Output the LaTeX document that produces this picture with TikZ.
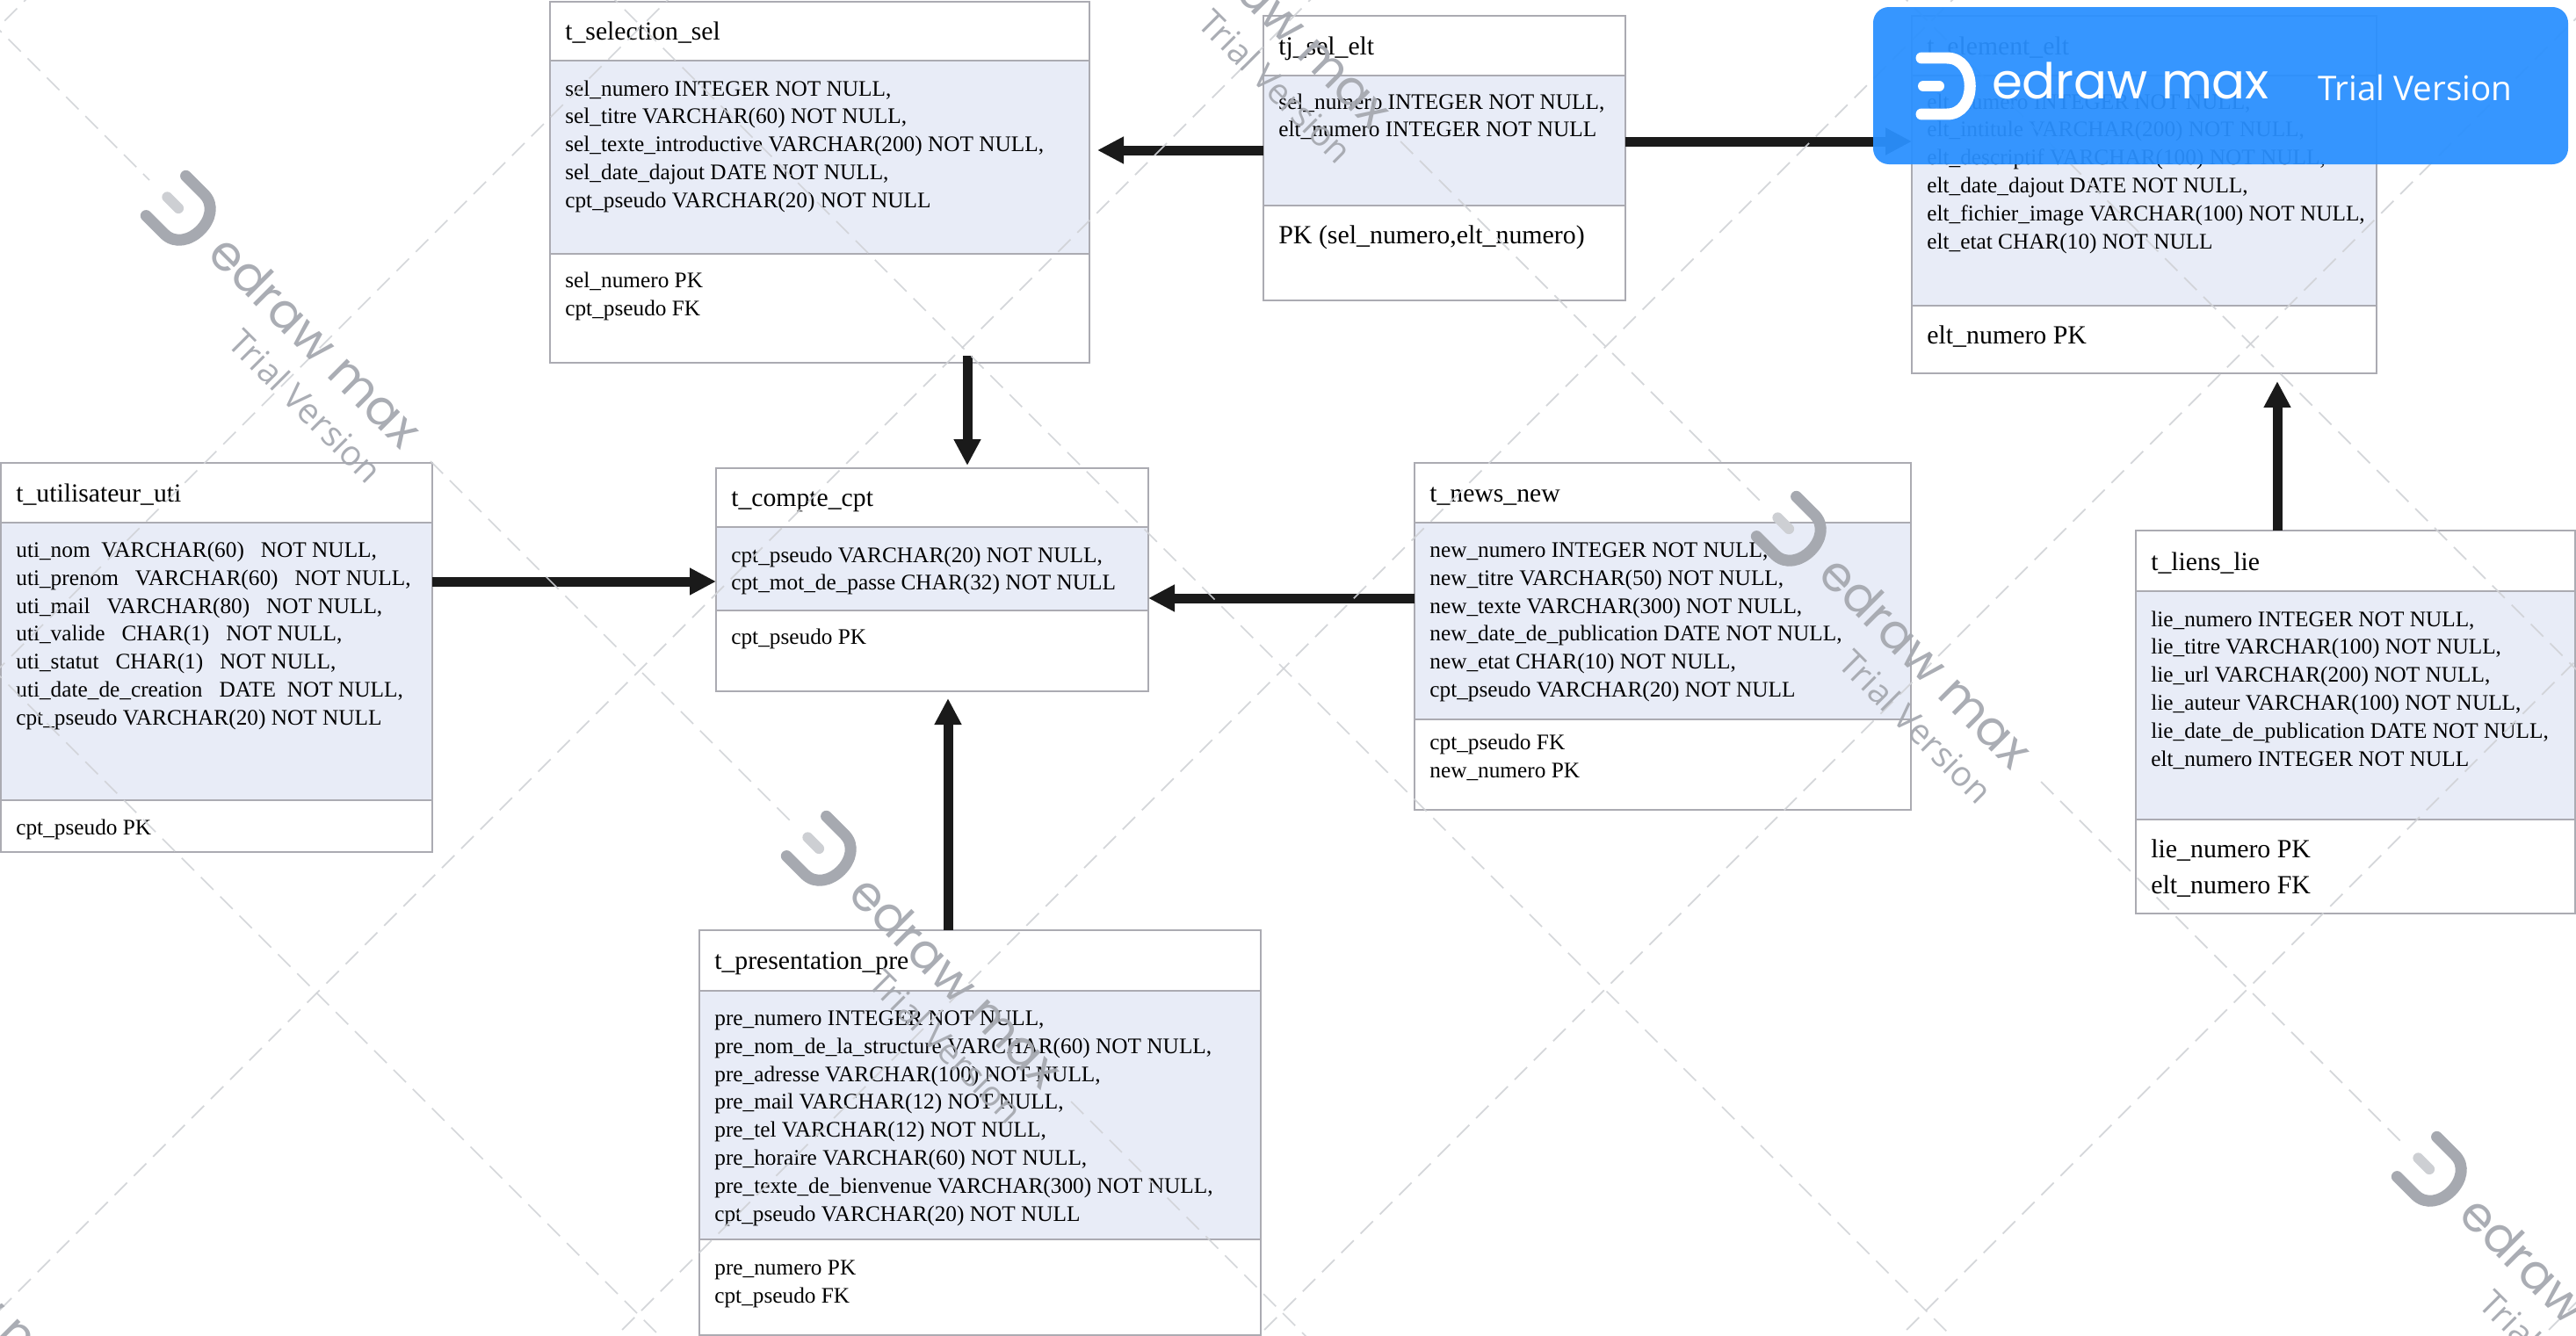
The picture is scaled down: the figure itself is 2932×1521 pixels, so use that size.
\documentclass[tikz,border=0pt]{standalone}
\usepackage{fontspec}
\setmainfont{Liberation Serif}
\newfontfamily\wmfont{Poppins}
\newfontfamily\trialfont{Open Sans}
\usetikzlibrary{arrows.meta,calc}
\definecolor{boxline}{HTML}{ABABB2}
\definecolor{bodyfill}{HTML}{E8ECF7}
\definecolor{conncol}{HTML}{1A1A1A}
\definecolor{wmgrey}{HTML}{A6A9B0}
\definecolor{wmlight}{HTML}{CDCFD3}
\definecolor{wmdash}{HTML}{D0D2D6}
\definecolor{bannerblue}{HTML}{2A90FF}
\tikzset{
  x=0.02cm,y=-0.02cm,
  compbox/.style={draw=boxline,line width=0.05cm,anchor=north west,inner sep=0pt,outer sep=0pt},
  plainbox/.style={compbox,fill=white},
  bodybox/.style={compbox,fill=bodyfill},
  txt/.style={anchor=base west,inner sep=0pt,font=\fontsize{14.4}{18.1}\selectfont,text=black},
  titletxt/.style={txt,font=\fontsize{16.9}{18.1}\selectfont},
  bigtxt/.style={txt,font=\fontsize{17}{23.4}\selectfont},
  conn/.style={draw=conncol,line width=0.22cm,-{Triangle[length=0.6cm,width=0.58cm]}},
  wmline/.style={draw=wmdash,line width=0.035cm,dash pattern=on 0.4cm off 0.22cm,opacity=.9},
  wmbig/.style={inner sep=0pt,rotate=-45,text=wmgrey,font=\wmfont\fontsize{31.8}{33}\selectfont,opacity=.95},
  wmsmall/.style={inner sep=0pt,rotate=-45,text=wmgrey,font=\trialfont\fontsize{22.5}{23}\selectfont,opacity=.95},
}
% name, x1, x2, y1, y2, style
\newcommand{\compart}[6]{%
  \pgfmathsetmacro{\cw}{(#3-#2)*0.02}%
  \pgfmathsetmacro{\ch}{(#5-#4)*0.02}%
  \gdef\lastleft{#2}%
  \node[#6,minimum width=\cw cm,minimum height=\ch cm] (#1) at (#2,#4) {};}
% name, first-line centre y (display px), style, text
\newcommand{\ctext}[4]{%
  \pgfmathsetmacro{\tx}{\lastleft+17}%
  \pgfmathsetmacro{\ty}{#2*1.87+10}%
  \node[#3] (#1) at (\tx,\ty) {\begin{tabular}[t]{@{}l@{}}#4\end{tabular}};}
\newcommand{\wmlogo}[4]{% x y rotation colour
  \begin{scope}[shift={(#1,#2)},rotate=#3]
    \draw[#4,line width=0.26cm,line cap=round] (-34,-32) -- (-5,-32) .. controls (30,-32) and (30,32) .. (-5,32) -- (-34,32);
  \end{scope}}
\newcommand{\wmark}[3]{%
  \wmlogo{#2+13}{#3+12}{-45}{wmgrey}
  \begin{scope}[shift={(#2+13,#3+12)},rotate=-45]
    \draw[wmlight,line width=0.24cm,line cap=round] (-32,0) -- (-14,0);
  \end{scope}
  \node[wmbig] (wme#1) at ($(#2,#3)+(160,153)$) {edraw max};
  \node[wmsmall] (wmt#1) at ($(#2,#3)+(148,227)$) {Trial Version};}
\begin{document}
\begin{tikzpicture}
\useasboundingbox (0,0) rectangle (2932,1521);
\clip (0,0) rectangle (2932,1521);
\fill[white] (0,0) rectangle (2932,1521);

% t_selection_sel
\compart{selh}{626}{1240}{2}{69}{plainbox}
\compart{selb}{626}{1240}{69}{289}{bodybox}
\compart{self}{626}{1240}{289}{413}{plainbox}
\ctext{selht}{19}{titletxt}{t\_selection\_sel}
\ctext{selbt}{53}{txt}{sel\_numero INTEGER NOT NULL,\\sel\_titre VARCHAR(60) NOT NULL,\\sel\_texte\_introductive VARCHAR(200) NOT NULL,\\sel\_date\_dajout DATE NOT NULL,\\cpt\_pseudo VARCHAR(20) NOT NULL}
\ctext{selft}{170}{txt}{sel\_numero PK\\cpt\_pseudo FK}

% tj_sel_elt
\compart{tjh}{1438}{1850}{18}{86}{plainbox}
\compart{tjb}{1438}{1850}{86}{234}{bodybox}
\compart{tjf}{1438}{1850}{234}{342}{plainbox}
\ctext{tjht}{28}{titletxt}{tj\_sel\_elt}
\ctext{tjbt}{61}{txt}{sel\_numero INTEGER NOT NULL,\\elt\_numero INTEGER NOT NULL}
\ctext{tjft}{143}{bigtxt}{PK (sel\_numero,elt\_numero)}

% t_element_elt
\compart{elth}{2176}{2705}{18}{86}{plainbox}
\compart{eltb}{2176}{2705}{86}{348}{bodybox}
\compart{eltf}{2176}{2705}{348}{425}{plainbox}
\ctext{eltht}{28}{titletxt}{t\_element\_elt}
\ctext{eltbt}{61}{txt}{elt\_numero INTEGER NOT NULL,\\elt\_intitule VARCHAR(200) NOT NULL,\\elt\_descriptif VARCHAR(100) NOT NULL,\\elt\_date\_dajout DATE NOT NULL,\\elt\_fichier\_image VARCHAR(100) NOT NULL,\\elt\_etat CHAR(10) NOT NULL}
\ctext{eltft}{204}{bigtxt}{elt\_numero PK}

% t_utilisateur_uti
\compart{utih}{1}{492}{527}{595}{plainbox}
\compart{utib}{1}{492}{595}{911}{bodybox}
\compart{utif}{1}{492}{911}{970}{plainbox}
\ctext{utiht}{300}{titletxt}{t\_utilisateur\_uti}
\ctext{utibt}{334}{txt}{uti\_nom\ \ VARCHAR(60)\ \ \ NOT NULL,\\uti\_prenom\ \ \ VARCHAR(60)\ \ \ NOT NULL,\\uti\_mail\ \ \ VARCHAR(80)\ \ \ NOT NULL,\\uti\_valide\ \ \ CHAR(1)\ \ \ NOT NULL,\\uti\_statut\ \ \ CHAR(1)\ \ \ NOT NULL,\\uti\_date\_de\_creation\ \ \ DATE\ \ NOT NULL,\\cpt\_pseudo VARCHAR(20) NOT NULL}
\ctext{utift}{503}{txt}{cpt\_pseudo PK}

% t_compte_cpt
\compart{cpth}{815}{1307}{533}{600}{plainbox}
\compart{cptb}{815}{1307}{600}{695}{bodybox}
\compart{cptf}{815}{1307}{695}{787}{plainbox}
\ctext{cptht}{303}{titletxt}{t\_compte\_cpt}
\ctext{cptbt}{337}{txt}{cpt\_pseudo VARCHAR(20) NOT NULL,\\cpt\_mot\_de\_passe CHAR(32) NOT NULL}
\ctext{cptft}{387}{txt}{cpt\_pseudo PK}

% t_news_new
\compart{newh}{1610}{2175}{527}{595}{plainbox}
\compart{newb}{1610}{2175}{595}{819}{bodybox}
\compart{newf}{1610}{2175}{819}{922}{plainbox}
\ctext{newht}{300}{titletxt}{t\_news\_new}
\ctext{newbt}{334}{txt}{new\_numero INTEGER NOT NULL,\\new\_titre VARCHAR(50) NOT NULL,\\new\_texte VARCHAR(300) NOT NULL,\\new\_date\_de\_publication DATE NOT NULL,\\new\_etat CHAR(10) NOT NULL,\\cpt\_pseudo VARCHAR(20) NOT NULL}
\ctext{newft}{451}{txt}{cpt\_pseudo FK\\new\_numero PK}

% t_liens_lie
\compart{lieh}{2431}{2931}{604}{673}{plainbox}
\compart{lieb}{2431}{2931}{673}{933}{bodybox}
\compart{lief}{2431}{2931}{933}{1040}{plainbox}
\ctext{lieht}{342}{titletxt}{t\_liens\_lie}
\ctext{liebt}{376}{txt}{lie\_numero INTEGER NOT NULL,\\lie\_titre VARCHAR(100) NOT NULL,\\lie\_url VARCHAR(200) NOT NULL,\\lie\_auteur VARCHAR(100) NOT NULL,\\lie\_date\_de\_publication DATE NOT NULL,\\elt\_numero INTEGER NOT NULL}
\ctext{lieft}{517}{bigtxt}{lie\_numero PK\\elt\_numero FK}

% t_presentation_pre
\compart{preh}{796}{1435}{1059}{1128}{plainbox}
\compart{preb}{796}{1435}{1128}{1411}{bodybox}
\compart{pref}{796}{1435}{1411}{1520}{plainbox}
\ctext{preht}{585}{titletxt}{t\_presentation\_pre}
\ctext{prebt}{619}{txt}{pre\_numero INTEGER NOT NULL,\\pre\_nom\_de\_la\_structure VARCHAR(60) NOT NULL,\\pre\_adresse VARCHAR(100) NOT NULL,\\pre\_mail VARCHAR(12) NOT NULL,\\pre\_tel VARCHAR(12) NOT NULL,\\pre\_horaire VARCHAR(60) NOT NULL,\\pre\_texte\_de\_bienvenue VARCHAR(300) NOT NULL,\\cpt\_pseudo VARCHAR(20) NOT NULL}
\ctext{preft}{771}{txt}{pre\_numero PK\\cpt\_pseudo FK}

% connectors
\draw[conn,shorten >=0.18cm] (tjb.west |- 0,171) -- (selb.east |- 0,171);
\draw[conn] (tjb.east |- 0,161) -- (eltb.west |- 0,161);
\draw[conn,shorten <=-0.16cm,shorten >=0.06cm] (self.south -| 1101,0) -- (cpth.north -| 1101,0);
\draw[conn] (utib.east |- 0,662) -- (cptb.west |- 0,662);
\draw[conn] (newb.west |- 0,681) -- (cptb.east |- 0,681);
\draw[conn,shorten >=0.16cm] (preh.north -| 1079,0) -- (cptf.south -| 1079,0);
\draw[conn,shorten >=0.18cm] (lieh.north -| 2592,0) -- (eltf.south -| 2592,0);

% watermark lattice
\foreach \s in {29,760,1491,2222,2953,3684,4415} {
  \draw[wmline] (\s+100,-100) -- (\s-1700,1700);
}
\foreach \c in {-2170,-700,770} {
  \draw[wmline] (-100,\c-100) -- (3100,\c+3100);
}
\draw[wmline] (-100,-65) -- (170,205);
\draw[wmline] (490,525) -- (899,934);
\draw[wmline] (1219,1254) -- (1700,1735);
\draw[wmline] (1594,161) -- (2003,570);
\draw[wmline] (2323,890) -- (2732,1299);
\wmark{a}{200}{235}
\wmark{b}{929}{964}
\wmark{c}{2033}{600}
\wmark{d}{2762}{1329}
\wmark{e}{1304}{-129}
\wmark{f}{-175}{1328}

% banner
\fill[bannerblue,opacity=.94,rounded corners=0.36cm] (2132,8) rectangle (2923,187);
\wmlogo{2221}{98}{0}{white}
\draw[white,line width=0.24cm,line cap=round] (2189,98) -- (2207,98);
\node[inner sep=0pt,text=white,font=\wmfont\fontsize{32}{32}\selectfont] (bane) at (2425,92) {edraw max};
\node[inner sep=0pt,text=white,font=\trialfont\fontsize{22}{22}\selectfont] (bant) at (2749,100) {Trial Version};
\end{tikzpicture}
\end{document}
